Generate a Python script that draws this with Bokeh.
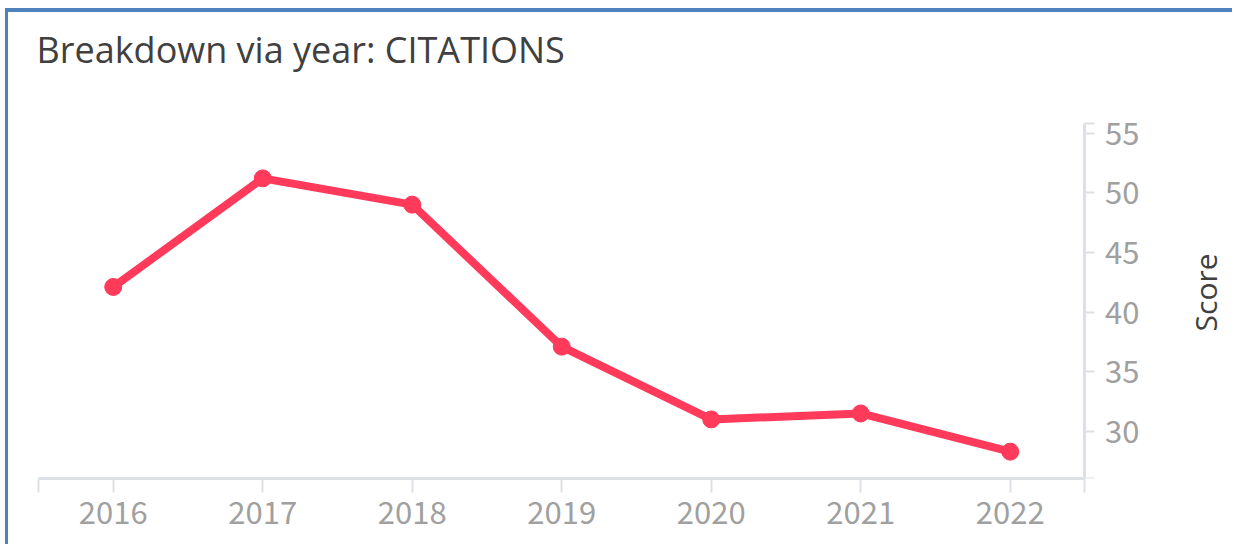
import math
from bokeh.plotting import figure
from bokeh.models import Range1d, FixedTicker, ColumnDataSource, Label
from bokeh.embed import file_html
from bokeh.resources import INLINE

years = [2016, 2017, 2018, 2019, 2020, 2021, 2022]
scores = [42.1, 51.2, 49.0, 37.1, 31.0, 31.5, 28.3]
y_tick_values = [30, 35, 40, 45, 50, 55]
title_text = "Breakdown via year: CITATIONS"
y_label_text = "Score"

# axis extents (data units) and the visible area around them
X_START, X_END = 2015.5, 2022.5
Y_START, Y_END = 26.05, 55.8
X_VIEW_END = 2023.44
Y_VIEW_END = 65.1
TITLE_Y = 62.0
SCORE_Y = 41.64

src = ColumnDataSource(dict(year=years, score=scores))

p = figure(width=1227, height=536, output_backend="svg", toolbar_location=None,
           x_range=Range1d(X_START, X_VIEW_END), y_range=Range1d(Y_START, Y_VIEW_END),
           y_axis_location="right", min_border_left=30, min_border_right=10,
           min_border_bottom=70, min_border_top=0)
p.styles = {"border-top": "4px solid #4f81bd", "border-left": "3px solid #4f81bd",
            "margin-top": "8px", "margin-left": "5px"}
p.outline_line_color = None
p.xgrid.visible = False
p.ygrid.visible = False

axis_color = "#dde1e6"
label_color = "#a0a0a0"
tick_font = "Noto Sans CJK JP"

xa = p.xaxis[0]
xa.bounds = (X_START, X_END)
xa.ticker = FixedTicker(ticks=[X_START] + years + [X_END])
xa.major_label_overrides = {X_START: "", X_END: "", **{y: str(y) for y in years}}
xa.axis_line_color = axis_color
xa.axis_line_width = 3
xa.major_tick_line_color = axis_color
xa.major_tick_line_width = 2
xa.major_tick_in = 0
xa.major_tick_out = 14
xa.minor_tick_line_color = None
xa.major_label_text_font = tick_font
xa.major_label_text_font_size = "31px"
xa.major_label_text_color = label_color
xa.major_label_standoff = 8

ya = p.yaxis[0]
ya.fixed_location = X_END
ya.bounds = (Y_START, Y_END)
yt = [Y_START + 0.01] + y_tick_values + [Y_END - 0.01]
ya.ticker = FixedTicker(ticks=yt)
ya.major_label_overrides = {yt[0]: "", yt[-1]: ""}
ya.axis_line_color = axis_color
ya.axis_line_width = 3
ya.major_tick_line_color = axis_color
ya.major_tick_line_width = 2
ya.major_tick_in = 0
ya.major_tick_out = 10
ya.minor_tick_line_color = None
ya.major_label_text_font = tick_font
ya.major_label_text_font_size = "31px"
ya.major_label_text_color = label_color
ya.major_label_standoff = 10

title = Label(x=X_START, y=TITLE_Y, x_offset=-2, text=title_text,
              text_font="Open Sans", text_font_size="36px", text_color="#404040",
              text_align="left", text_baseline="alphabetic")
p.add_layout(title)

ylab = Label(x=X_END, y=SCORE_Y, x_offset=121, text=y_label_text,
             angle=math.pi / 2, text_font="Open Sans", text_font_size="30px",
             text_color="#404040", text_align="center", text_baseline="middle")
p.add_layout(ylab)

red = "#ff3a5a"
p.line("year", "score", source=src, line_color=red, line_width=8)
p.scatter("year", "score", source=src, size=17, fill_color=red, line_color=red)

open("out.html", "w").write(file_html(p, INLINE))
